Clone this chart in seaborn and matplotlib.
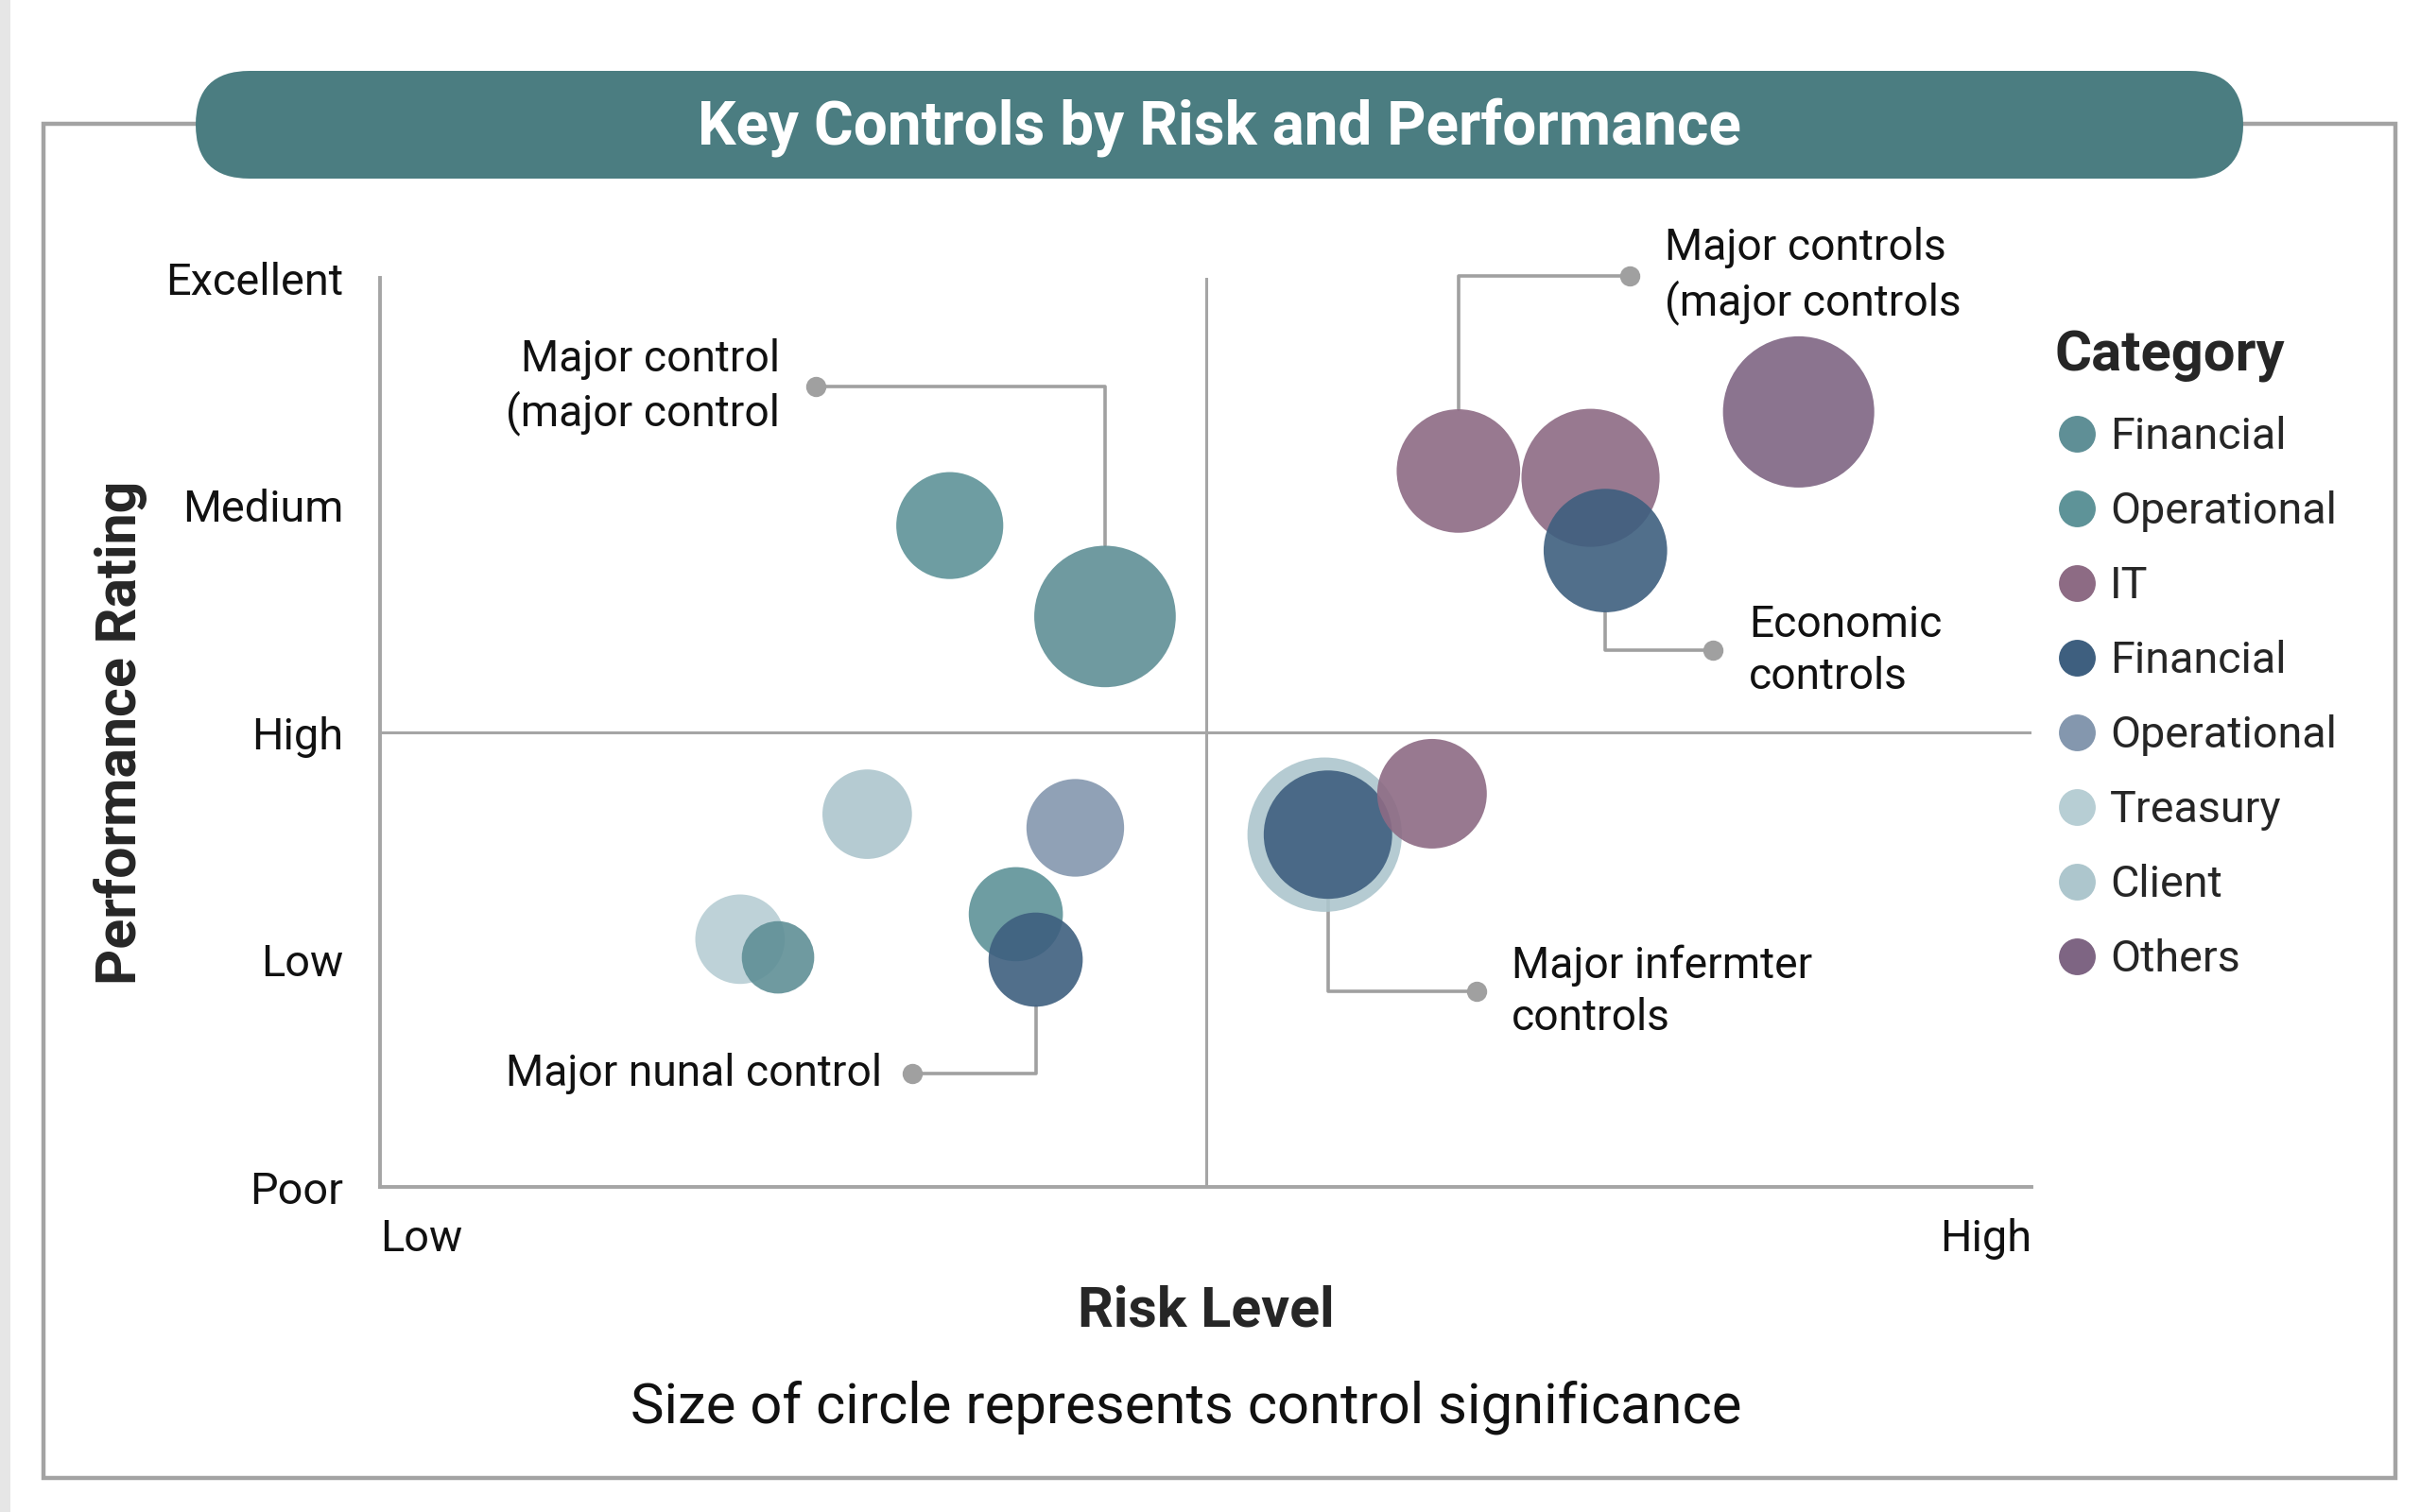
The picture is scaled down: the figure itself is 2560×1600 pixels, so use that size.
import numpy as np
import pandas as pd
import matplotlib
matplotlib.use('Agg')
import matplotlib.pyplot as plt
import seaborn as sns
from matplotlib.patches import FancyBboxPatch, Rectangle
from matplotlib.lines import Line2D

# Datos del gráfico
categorias = ['Financial', 'Operational', 'IT', 'Financial',
              'Operational', 'Treasury', 'Client', 'Others']
colores = ['#5f8f96', '#5e9398', '#8d6b84', '#3e5f7f',
           '#8497ae', '#b7ced4', '#adc6cd', '#7e6583']

riesgo = [3.45, 4.39, 6.53, 7.33, 8.59, 7.42, 2.95, 4.21,
          2.18, 2.41, 3.85, 3.97, 5.72, 5.74, 6.37]
desempeno = [2.91, 2.51, 3.15, 3.12, 3.41, 2.80, 1.64, 1.58,
             1.09, 1.01, 1.20, 1.00, 1.55, 1.55, 1.73]
significancia = [12, 21, 16, 20, 24, 16, 8.4, 10,
                 8.4, 5.5, 9.3, 9.3, 25, 17.3, 12.6]
grupo = [1, 0, 2, 2, 7, 3, 6, 4, 5, 0, 1, 3, 6, 3, 2]

ticks_y = ['Poor', 'Low', 'High', 'Medium', 'Excellent']
ticks_x = ['Low', 'High']

# Anotaciones: (indice del punto, x del punto gris, y del punto gris, texto, x texto, alineacion)
anotaciones = [
    (1, 2.64, 3.52, 'Major control\n(major control', 2.42, 'right'),
    (2, 7.57, 4.01, 'Major controls\n(major controls', 7.78, 'left'),
    (5, 8.07, 2.36, 'Economic\ncontrols', 8.29, 'left'),
    (13, 6.64, 0.86, 'Major infermter\ncontrols', 6.85, 'left'),
    (11, 3.22, 0.50, 'Major nunal control', 3.04, 'right'),
]

datos = pd.DataFrame({'Riesgo': riesgo, 'Desempeno': desempeno,
                      'Significancia': significancia, 'Grupo': grupo})

sns.set_style('white')
plt.rcParams['font.family'] = ['Roboto', 'DejaVu Sans']

DPI = 200
S_MAX = 3458
fig = plt.figure(figsize=(12.8, 8), dpi=DPI)

# Fondo: marco, banda del título
bg = fig.add_axes([0, 0, 1, 1], zorder=-1)
bg.set_xlim(0, 2560)
bg.set_ylim(1600, 0)
bg.axis('off')
bg.add_patch(Rectangle((0, 0), 11, 1600, color='#e6e6e6', lw=0))
bg.add_patch(Rectangle((46, 131), 2488, 1433, fill=False, ec='#a3a3a3', lw=1.6))
bg.add_patch(FancyBboxPatch((207, 75), 2166, 114,
                            boxstyle='round,pad=0,rounding_size=57',
                            fc='#4b7d81', ec='none'))
bg.text(1290, 135, 'Key Controls by Risk and Performance', color='white',
        fontsize=23, fontweight='bold', ha='center', va='center')

ax = fig.add_axes([402 / 2560, 1 - 1256 / 1600, 1747 / 2560, 962 / 1600])

sns.scatterplot(data=datos, x='Riesgo', y='Desempeno', hue='Grupo',
                palette=colores, size='Significancia', sizes=(0, S_MAX),
                size_norm=(0, 25), alpha=0.9, linewidth=0, legend=False,
                zorder=3, ax=ax)

# Líneas de cuadrantes
ax.axvline(5, color='#a5a5a5', lw=1.1, zorder=1)
ax.axhline(2, color='#a5a5a5', lw=1.1, zorder=1)

ax.set_xlim(0, 10)
ax.set_ylim(0, 4)

# Conectores de anotaciones (terminan en el borde del círculo)
px_por_y = 962 / 4
for idx, xd, yd, texto, xt, ha in anotaciones:
    xc, yc = riesgo[idx], desempeno[idx]
    radio_px = np.sqrt(S_MAX * significancia[idx] / 25) / 2 * DPI / 72
    borde = yc + np.sign(yd - yc) * radio_px / px_por_y
    ax.plot([xc, xc, xd], [borde, yd, yd], color='#a0a0a0', lw=1.3,
            zorder=2, clip_on=False)
    ax.scatter([xd], [yd], s=45, color='#a0a0a0', zorder=2, clip_on=False)
    ax.text(xt, yd, texto, ha=ha, va='center', fontsize=16.6,
            color='#111111', linespacing=1.32)

ax.set_yticks(range(5), ticks_y)
ax.set_xticks([0, 10], ticks_x)
xl = ax.get_xticklabels()
xl[0].set_ha('left')
xl[1].set_ha('right')
ax.tick_params(axis='both', length=0, labelsize=16.9, colors='#111111')
ax.tick_params(axis='x', pad=12)
ax.tick_params(axis='y', pad=14)

sns.despine(ax=ax)
for lado in ['left', 'bottom']:
    ax.spines[lado].set_color('#a5a5a5')
    ax.spines[lado].set_linewidth(1.4)

ax.set_xlabel('Risk Level', fontsize=21.3, fontweight='bold', va='center')
ax.xaxis.set_label_coords(0.5, -0.137)
ax.set_ylabel('Performance Rating', fontsize=21.3, fontweight='bold', va='center')
ax.yaxis.set_label_coords(-0.157, 0.5)

fig.text(0.49, 0.069, 'Size of circle represents control significance',
         fontsize=21.5, ha='center', va='center', color='#111111')

# Leyenda
manejadores = [Line2D([], [], marker='o', ls='', markersize=14,
                      markerfacecolor=c, markeredgecolor='none')
               for c in colores]
leg = ax.legend(manejadores, categorias, title='Category', frameon=False,
                loc='upper left', bbox_to_anchor=(0.849, 0.782),
                bbox_transform=fig.transFigure, fontsize=16.8,
                title_fontproperties={'weight': 'bold', 'size': 21.5},
                handlelength=1.0, handletextpad=0.25, labelspacing=0.75,
                borderpad=0, borderaxespad=0)
leg._legend_box.align = 'left'

plt.savefig('out.png', dpi=DPI)
